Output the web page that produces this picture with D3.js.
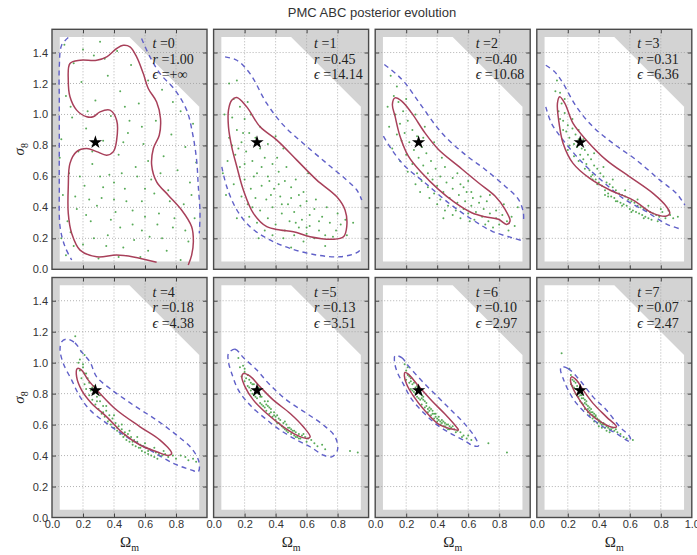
<!DOCTYPE html>
<html>
<head>
<meta charset="utf-8">
<script src="https://cdn.jsdelivr.net/npm/d3@7"></script>
<style>
  body { margin: 0; background: #fff; }
  svg { display: block; }
</style>
</head>
<body>
<svg id="chart" width="697" height="555"></svg>
<script>
// ---- data ----
const iterations = [0, 1, 2, 3, 4, 5, 6, 7];
const rValues = ['1.00', '0.45', '0.40', '0.31', '0.18', '0.13', '0.10', '0.07'];
const epsValues = ['+\u221e', '14.14', '10.68', '6.36', '4.38', '3.51', '2.97', '2.47'];
const trueParams = [0.28, 0.82];
const xTicks = [0, 0.2, 0.4, 0.6, 0.8, 1.0];
const yTicks = [0, 0.2, 0.4, 0.6, 0.8, 1.0, 1.2, 1.4];

// allowed prior region (white area)
const priorPoly = [[0.05, 0.05], [0.05, 1.5], [0.5, 1.5], [0.95, 1.05], [0.95, 0.05]];

// inner (red) contours, one per iteration
const redContours = [
  [[0.675,0.045],[0.525,0.08],[0.417,0.092],[0.288,0.081],[0.181,0.124],[0.127,0.232],[0.105,0.361],[0.105,0.533],[0.116,0.684],[0.159,0.76],[0.224,0.78],[0.288,0.76],[0.353,0.737],[0.396,0.76],[0.417,0.834],[0.417,0.963],[0.374,1.028],[0.31,1.017],[0.266,0.985],[0.224,0.985],[0.159,1.028],[0.116,1.114],[0.105,1.221],[0.116,1.329],[0.181,1.35],[0.288,1.35],[0.353,1.372],[0.417,1.426],[0.46,1.447],[0.503,1.437],[0.546,1.372],[0.589,1.264],[0.621,1.168],[0.675,1.081],[0.7,0.974],[0.692,0.866],[0.654,0.78],[0.643,0.673],[0.675,0.565],[0.75,0.479],[0.836,0.383],[0.901,0.275],[0.912,0.178],[0.901,0.092],[0.879,0.028]],
  [[0.15,1.109],[0.214,1.049],[0.3,0.92],[0.408,0.834],[0.537,0.705],[0.666,0.576],[0.795,0.468],[0.848,0.383],[0.859,0.275],[0.838,0.21],[0.773,0.194],[0.623,0.21],[0.515,0.243],[0.429,0.254],[0.343,0.275],[0.257,0.361],[0.192,0.512],[0.15,0.662],[0.117,0.791],[0.096,0.92],[0.096,1.028],[0.117,1.092]],
  [[0.128,1.107],[0.171,1.086],[0.235,1.01],[0.321,0.881],[0.408,0.774],[0.537,0.666],[0.666,0.559],[0.773,0.473],[0.838,0.387],[0.87,0.312],[0.848,0.29],[0.795,0.323],[0.709,0.339],[0.623,0.365],[0.515,0.43],[0.408,0.516],[0.3,0.623],[0.214,0.731],[0.16,0.86],[0.128,0.989],[0.111,1.065]],
  [[0.148,1.114],[0.181,1.071],[0.234,0.942],[0.32,0.834],[0.449,0.705],[0.6,0.597],[0.75,0.49],[0.837,0.404],[0.858,0.361],[0.837,0.344],[0.75,0.361],[0.621,0.447],[0.471,0.512],[0.342,0.587],[0.234,0.684],[0.17,0.813],[0.144,0.942],[0.133,1.071]],
  [[0.163,0.962],[0.191,0.952],[0.234,0.887],[0.31,0.801],[0.417,0.694],[0.568,0.586],[0.697,0.5],[0.772,0.414],[0.75,0.401],[0.675,0.425],[0.568,0.468],[0.46,0.543],[0.353,0.65],[0.256,0.737],[0.191,0.823],[0.159,0.908]],
  [[0.192,0.93],[0.235,0.913],[0.3,0.844],[0.386,0.758],[0.494,0.672],[0.579,0.586],[0.623,0.521],[0.601,0.511],[0.537,0.532],[0.45,0.586],[0.343,0.672],[0.257,0.758],[0.203,0.844],[0.182,0.908]],
  [[0.192,0.937],[0.214,0.926],[0.279,0.85],[0.365,0.754],[0.45,0.668],[0.526,0.582],[0.537,0.565],[0.494,0.571],[0.408,0.603],[0.321,0.689],[0.246,0.786],[0.203,0.861],[0.188,0.915]],
  [[0.224,0.908],[0.256,0.887],[0.299,0.823],[0.363,0.737],[0.449,0.65],[0.514,0.586],[0.492,0.582],[0.428,0.608],[0.342,0.672],[0.277,0.758],[0.234,0.833],[0.217,0.887]]
];
const redOpen = [true, false, false, false, false, false, false, false];

// outer (blue dashed) contours; early ones leave the plot and are open
const blueContours = [
  [[[0.105,1.497],[0.062,1.447],[0.047,1.307],[0.047,1.092],[0.047,0.813],[0.047,0.533],[0.052,0.275],[0.084,0.146],[0.127,0.06]],
   [[0.578,1.49],[0.632,1.372],[0.697,1.264],[0.794,1.157],[0.869,1.028],[0.907,0.877],[0.933,0.705],[0.944,0.533],[0.955,0.361],[0.95,0.232]]],
  [[[0.074,1.372],[0.15,1.35],[0.235,1.264],[0.343,1.071],[0.45,0.931],[0.579,0.813],[0.73,0.684],[0.859,0.576],[0.924,0.512],[0.956,0.447]],
   [[0.053,0.662],[0.085,0.533],[0.15,0.383],[0.235,0.275],[0.343,0.2],[0.494,0.135],[0.666,0.092],[0.816,0.081],[0.924,0.107],[0.956,0.135]]],
  [[[0.059,1.323],[0.128,1.268],[0.192,1.204],[0.3,1.054],[0.429,0.881],[0.579,0.742],[0.709,0.645],[0.838,0.537],[0.924,0.452],[0.956,0.365],[0.956,0.301]],
   [[0.053,0.86],[0.106,0.774],[0.192,0.666],[0.321,0.559],[0.472,0.43],[0.623,0.323],[0.752,0.247],[0.881,0.204],[0.956,0.183]]],
  [[[0.058,1.318],[0.116,1.275],[0.17,1.2],[0.256,1.049],[0.363,0.92],[0.492,0.813],[0.643,0.705],[0.794,0.576],[0.901,0.49],[0.955,0.415]],
   [[0.058,1.049],[0.095,0.942],[0.17,0.834],[0.299,0.684],[0.428,0.565],[0.557,0.458],[0.708,0.372],[0.837,0.292],[0.933,0.258]]],
  [[[0.095,1.152],[0.148,1.128],[0.191,1.07],[0.245,1.005],[0.288,0.908],[0.374,0.833],[0.525,0.726],[0.675,0.629],[0.804,0.532],[0.901,0.446],[0.948,0.36],[0.944,0.296],[0.901,0.306],[0.783,0.35],[0.632,0.435],[0.482,0.521],[0.353,0.608],[0.245,0.694],[0.181,0.779],[0.127,0.887],[0.073,0.995],[0.052,1.081],[0.062,1.134]]],
  [[[0.096,1.059],[0.139,1.087],[0.192,1.033],[0.279,0.952],[0.365,0.855],[0.472,0.758],[0.601,0.672],[0.708,0.597],[0.784,0.521],[0.799,0.435],[0.762,0.392],[0.708,0.403],[0.623,0.457],[0.537,0.5],[0.429,0.565],[0.332,0.64],[0.235,0.726],[0.16,0.823],[0.117,0.93],[0.096,1.005]]],
  [[[0.128,1.044],[0.171,1.033],[0.214,0.979],[0.3,0.883],[0.408,0.775],[0.494,0.689],[0.579,0.603],[0.644,0.517],[0.666,0.463],[0.633,0.463],[0.579,0.495],[0.494,0.539],[0.408,0.592],[0.321,0.668],[0.235,0.765],[0.182,0.861],[0.139,0.947],[0.124,1.012]]],
  [[[0.159,0.973],[0.202,0.962],[0.277,0.887],[0.363,0.779],[0.449,0.694],[0.535,0.586],[0.6,0.521],[0.604,0.489],[0.578,0.5],[0.514,0.543],[0.428,0.586],[0.342,0.65],[0.256,0.737],[0.202,0.823],[0.17,0.898],[0.153,0.952]]]
];
const blueOpen = [true, true, true, true, false, false, false, false];

// accepted particles per iteration
const particles = [
  [[0.08,1.45],[0.31,1.47],[0.42,1.41],[0.14,1.33],[0.27,1.38],[0.51,1.32],[0.36,1.25],[0.62,1.22],[0.19,1.21],[0.09,1.12],[0.44,1.15],[0.71,1.16],[0.28,1.09],[0.56,1.07],[0.83,1.02],[0.13,0.98],[0.38,0.99],[0.67,0.96],[0.91,0.94],[0.22,0.91],[0.49,0.88],[0.77,0.87],[0.06,0.84],[0.33,0.83],[0.59,0.81],[0.86,0.79],[0.17,0.76],[0.43,0.74],[0.72,0.73],[0.93,0.69],[0.26,0.68],[0.54,0.66],[0.81,0.64],[0.11,0.62],[0.37,0.61],[0.64,0.58],[0.89,0.56],[0.21,0.54],[0.47,0.52],[0.75,0.51],[0.07,0.48],[0.32,0.46],[0.58,0.44],[0.85,0.42],[0.16,0.39],[0.41,0.37],[0.69,0.36],[0.92,0.33],[0.25,0.31],[0.52,0.29],[0.78,0.27],[0.12,0.24],[0.36,0.22],[0.63,0.21],[0.88,0.18],[0.2,0.16],[0.46,0.14],[0.74,0.12],[0.09,0.09],[0.3,0.07],[0.57,0.08],[0.83,0.06],[0.4,0.56],[0.29,0.41],[0.6,0.34],[0.15,0.47],[0.5,0.96],[0.23,1.02],[0.66,0.49],[0.35,0.15],[0.55,0.6],[0.44,0.27],[0.18,0.6],[0.7,0.62],[0.27,0.2],[0.62,0.12],[0.48,0.44],[0.33,0.53],[0.79,0.33],[0.1,0.31],[0.24,0.45],[0.58,0.25],[0.38,0.32],[0.53,0.19],[0.86,0.25],[0.45,0.62],[0.14,0.15],[0.68,0.29],[0.22,0.35],[0.52,0.38],[0.31,0.6],[0.4,0.45],[0.6,0.52],[0.76,0.44],[0.05,0.72],[0.47,1.05],[0.58,0.92],[0.34,1.36],[0.2,1.42],[0.12,1.05],[0.78,1.08],[0.46,0.82],[0.62,0.7],[0.26,0.76],[0.9,0.48],[0.06,0.2],[0.43,0.08],[0.71,0.2]],
  [[0.1,1.2],[0.13,1.1],[0.17,1.05],[0.12,0.98],[0.2,0.97],[0.15,0.9],[0.23,0.88],[0.1,0.85],[0.18,0.82],[0.27,0.85],[0.21,0.76],[0.14,0.74],[0.3,0.78],[0.25,0.7],[0.17,0.66],[0.33,0.72],[0.38,0.68],[0.28,0.62],[0.2,0.58],[0.35,0.6],[0.42,0.63],[0.24,0.52],[0.31,0.54],[0.46,0.57],[0.39,0.52],[0.5,0.53],[0.27,0.46],[0.34,0.45],[0.43,0.47],[0.55,0.48],[0.22,0.42],[0.3,0.38],[0.38,0.4],[0.48,0.42],[0.6,0.44],[0.35,0.33],[0.44,0.36],[0.52,0.37],[0.65,0.39],[0.28,0.3],[0.4,0.29],[0.49,0.31],[0.57,0.32],[0.7,0.34],[0.33,0.25],[0.46,0.25],[0.55,0.27],[0.62,0.28],[0.75,0.3],[0.52,0.22],[0.6,0.23],[0.68,0.25],[0.79,0.25],[0.65,0.2],[0.72,0.22],[0.82,0.29],[0.58,0.18],[0.45,0.2],[0.38,0.22],[0.8,0.36],[0.73,0.4],[0.66,0.45],[0.58,0.5],[0.53,0.58],[0.47,0.66],[0.41,0.72],[0.35,0.81],[0.3,0.92],[0.24,1.0],[0.07,1.0],[0.09,0.7],[0.13,0.55],[0.18,0.47],[0.06,0.62],[0.23,0.34],[0.42,0.55],[0.37,0.48],[0.31,0.66],[0.26,0.6],[0.2,0.68],[0.16,0.78],[0.5,0.46],[0.62,0.35],[0.68,0.31],[0.77,0.21],[0.86,0.22],[0.85,0.32],[0.9,0.3],[0.72,0.15],[0.5,0.14],[0.29,0.2],[0.15,0.33],[0.08,0.48],[0.44,0.42],[0.56,0.41],[0.36,0.57],[0.53,0.3],[0.6,0.27],[0.25,0.4],[0.19,0.88],[0.12,0.8],[0.22,1.08],[0.15,1.22],[0.4,0.86],[0.45,0.78],[0.61,0.62]],
  [[0.1,1.25],[0.12,1.12],[0.15,1.08],[0.13,1.0],[0.18,1.02],[0.16,0.94],[0.21,0.96],[0.19,0.88],[0.24,0.9],[0.17,0.83],[0.22,0.82],[0.27,0.86],[0.25,0.77],[0.3,0.79],[0.2,0.74],[0.28,0.72],[0.33,0.75],[0.24,0.68],[0.31,0.67],[0.36,0.7],[0.27,0.62],[0.34,0.62],[0.39,0.65],[0.3,0.57],[0.37,0.58],[0.42,0.6],[0.45,0.66],[0.34,0.53],[0.4,0.54],[0.46,0.56],[0.5,0.59],[0.38,0.49],[0.44,0.5],[0.5,0.52],[0.55,0.55],[0.42,0.45],[0.48,0.46],[0.54,0.48],[0.59,0.5],[0.47,0.41],[0.53,0.43],[0.58,0.44],[0.63,0.46],[0.52,0.38],[0.57,0.39],[0.62,0.41],[0.67,0.43],[0.6,0.36],[0.65,0.37],[0.7,0.39],[0.72,0.44],[0.64,0.32],[0.69,0.34],[0.74,0.36],[0.78,0.38],[0.73,0.31],[0.78,0.33],[0.82,0.35],[0.8,0.29],[0.85,0.31],[0.88,0.34],[0.76,0.27],[0.9,0.28],[0.55,0.33],[0.5,0.35],[0.45,0.38],[0.4,0.42],[0.35,0.46],[0.62,0.5],[0.57,0.53],[0.68,0.47],[0.29,0.5],[0.26,0.55],[0.21,0.63],[0.16,0.7],[0.11,0.78],[0.14,0.87],[0.09,0.92],[0.08,1.05],[0.14,1.18],[0.2,1.1],[0.26,1.0],[0.32,0.92],[0.38,0.82],[0.31,0.85],[0.43,0.72],[0.53,0.62],[0.6,0.57],[0.74,0.48],[0.83,0.42],[0.92,0.4],[0.86,0.25],[0.71,0.29],[0.61,0.31],[0.44,0.33]],
  [[0.13,1.22],[0.15,1.14],[0.16,1.07],[0.14,1.02],[0.18,1.01],[0.17,0.96],[0.2,0.93],[0.19,0.89],[0.23,0.91],[0.21,0.85],[0.25,0.87],[0.24,0.81],[0.26,0.79],[0.27,0.84],[0.29,0.78],[0.28,0.74],[0.31,0.77],[0.3,0.71],[0.33,0.74],[0.32,0.68],[0.35,0.71],[0.34,0.64],[0.37,0.67],[0.36,0.61],[0.39,0.65],[0.38,0.58],[0.41,0.62],[0.4,0.56],[0.43,0.6],[0.42,0.54],[0.45,0.56],[0.44,0.51],[0.47,0.55],[0.46,0.49],[0.49,0.53],[0.48,0.47],[0.51,0.51],[0.5,0.46],[0.53,0.49],[0.52,0.44],[0.55,0.48],[0.54,0.43],[0.57,0.47],[0.56,0.42],[0.59,0.45],[0.58,0.41],[0.61,0.44],[0.6,0.39],[0.63,0.43],[0.62,0.38],[0.65,0.41],[0.64,0.37],[0.67,0.4],[0.66,0.36],[0.69,0.39],[0.68,0.35],[0.71,0.38],[0.7,0.34],[0.73,0.37],[0.72,0.33],[0.75,0.36],[0.77,0.35],[0.74,0.32],[0.79,0.34],[0.81,0.37],[0.83,0.33],[0.86,0.35],[0.88,0.33],[0.91,0.34],[0.78,0.31],[0.69,0.33],[0.55,0.41],[0.46,0.47],[0.36,0.58],[0.27,0.7],[0.21,0.8],[0.17,0.9],[0.15,0.97],[0.2,0.77],[0.24,0.73],[0.31,0.65],[0.39,0.55],[0.35,0.6],[0.44,0.48],[0.51,0.44],[0.61,0.37],[0.27,0.9],[0.3,0.84],[0.37,0.75],[0.43,0.66],[0.49,0.58],[0.57,0.51],[0.65,0.45],[0.72,0.41],[0.8,0.39],[0.85,0.38],[0.23,0.97],[0.18,1.1],[0.12,1.15]],
  [[0.15,1.17],[0.19,1.07],[0.18,1.02],[0.2,0.99],[0.18,0.95],[0.21,0.93],[0.19,0.9],[0.23,0.9],[0.21,0.86],[0.24,0.87],[0.22,0.83],[0.26,0.84],[0.24,0.79],[0.27,0.8],[0.26,0.76],[0.29,0.78],[0.28,0.73],[0.31,0.75],[0.3,0.7],[0.33,0.72],[0.32,0.67],[0.35,0.69],[0.34,0.65],[0.37,0.66],[0.36,0.62],[0.39,0.64],[0.38,0.6],[0.41,0.61],[0.4,0.58],[0.43,0.59],[0.42,0.56],[0.45,0.57],[0.44,0.54],[0.47,0.55],[0.46,0.52],[0.49,0.54],[0.48,0.5],[0.51,0.52],[0.5,0.49],[0.53,0.5],[0.52,0.47],[0.55,0.49],[0.54,0.46],[0.57,0.47],[0.56,0.45],[0.59,0.46],[0.58,0.43],[0.61,0.45],[0.6,0.42],[0.63,0.44],[0.62,0.41],[0.65,0.43],[0.64,0.4],[0.67,0.42],[0.66,0.39],[0.69,0.41],[0.71,0.4],[0.68,0.38],[0.73,0.41],[0.75,0.39],[0.78,0.4],[0.8,0.38],[0.83,0.4],[0.86,0.39],[0.88,0.37],[0.91,0.38],[0.93,0.36],[0.25,0.82],[0.29,0.75],[0.33,0.68],[0.37,0.63],[0.42,0.58],[0.47,0.53],[0.52,0.49],[0.57,0.45],[0.62,0.43],[0.2,0.97],[0.22,0.93],[0.27,0.85],[0.31,0.79],[0.35,0.72],[0.4,0.66],[0.45,0.6],[0.5,0.56],[0.55,0.52],[0.6,0.48],[0.66,0.45],[0.72,0.43],[0.21,1.05],[0.17,1.0]],
  [[0.16,1.03],[0.19,0.98],[0.2,0.94],[0.18,0.91],[0.22,0.92],[0.2,0.88],[0.23,0.89],[0.22,0.85],[0.25,0.86],[0.24,0.82],[0.27,0.83],[0.26,0.79],[0.29,0.8],[0.28,0.77],[0.31,0.78],[0.3,0.74],[0.33,0.75],[0.32,0.72],[0.35,0.72],[0.34,0.69],[0.37,0.7],[0.36,0.67],[0.39,0.68],[0.38,0.65],[0.41,0.66],[0.4,0.63],[0.43,0.63],[0.42,0.61],[0.45,0.61],[0.44,0.59],[0.47,0.6],[0.46,0.57],[0.49,0.58],[0.48,0.55],[0.51,0.56],[0.5,0.54],[0.53,0.55],[0.52,0.53],[0.55,0.54],[0.54,0.52],[0.57,0.53],[0.56,0.51],[0.59,0.52],[0.61,0.51],[0.63,0.5],[0.65,0.48],[0.67,0.46],[0.7,0.47],[0.72,0.44],[0.88,0.43],[0.93,0.42],[0.23,0.84],[0.26,0.86],[0.28,0.81],[0.3,0.78],[0.33,0.71],[0.35,0.75],[0.37,0.68],[0.4,0.65],[0.43,0.6],[0.46,0.62],[0.48,0.58],[0.52,0.56],[0.55,0.51],[0.21,0.9],[0.24,0.87],[0.27,0.78],[0.31,0.73],[0.34,0.73],[0.39,0.66],[0.42,0.64],[0.45,0.58],[0.5,0.57],[0.58,0.54],[0.6,0.49],[0.25,0.8],[0.29,0.84],[0.36,0.71],[0.41,0.61],[0.47,0.56],[0.53,0.52],[0.2,0.96],[0.17,0.97]],
  [[0.19,0.99],[0.2,0.95],[0.21,0.92],[0.2,0.89],[0.23,0.9],[0.22,0.87],[0.24,0.86],[0.23,0.83],[0.26,0.84],[0.25,0.81],[0.28,0.81],[0.27,0.78],[0.3,0.79],[0.29,0.76],[0.31,0.76],[0.3,0.73],[0.33,0.74],[0.32,0.71],[0.35,0.71],[0.34,0.68],[0.37,0.69],[0.36,0.66],[0.39,0.67],[0.38,0.64],[0.41,0.65],[0.4,0.62],[0.43,0.63],[0.42,0.6],[0.45,0.61],[0.44,0.59],[0.47,0.6],[0.46,0.58],[0.49,0.58],[0.48,0.57],[0.51,0.57],[0.53,0.56],[0.55,0.55],[0.57,0.53],[0.59,0.51],[0.62,0.5],[0.73,0.48],[0.85,0.42],[0.22,0.91],[0.25,0.87],[0.27,0.83],[0.29,0.8],[0.31,0.78],[0.33,0.72],[0.36,0.7],[0.38,0.67],[0.4,0.64],[0.42,0.62],[0.44,0.62],[0.46,0.6],[0.5,0.59],[0.24,0.82],[0.28,0.77],[0.32,0.75],[0.35,0.69],[0.39,0.65],[0.43,0.61],[0.47,0.57],[0.21,0.97],[0.26,0.8],[0.3,0.77],[0.34,0.7],[0.37,0.67],[0.41,0.63],[0.45,0.59],[0.48,0.59],[0.52,0.55],[0.23,0.88],[0.27,0.85],[0.56,0.52],[0.6,0.53]],
  [[0.16,1.06],[0.21,0.96],[0.22,0.92],[0.23,0.89],[0.22,0.86],[0.25,0.87],[0.24,0.84],[0.26,0.83],[0.25,0.8],[0.28,0.81],[0.27,0.78],[0.29,0.77],[0.28,0.75],[0.31,0.76],[0.3,0.73],[0.32,0.73],[0.31,0.7],[0.34,0.71],[0.33,0.68],[0.35,0.68],[0.34,0.66],[0.37,0.67],[0.36,0.64],[0.38,0.65],[0.37,0.62],[0.4,0.63],[0.39,0.61],[0.41,0.61],[0.4,0.59],[0.43,0.6],[0.42,0.58],[0.44,0.58],[0.46,0.58],[0.45,0.56],[0.48,0.57],[0.47,0.55],[0.5,0.56],[0.52,0.55],[0.54,0.54],[0.56,0.52],[0.58,0.51],[0.62,0.5],[0.24,0.88],[0.26,0.85],[0.27,0.82],[0.29,0.79],[0.3,0.77],[0.32,0.75],[0.33,0.72],[0.35,0.7],[0.36,0.68],[0.38,0.66],[0.39,0.64],[0.41,0.62],[0.43,0.61],[0.45,0.59],[0.47,0.57],[0.49,0.58],[0.23,0.85],[0.25,0.83],[0.28,0.79],[0.31,0.74],[0.34,0.69],[0.37,0.65],[0.4,0.62],[0.44,0.6],[0.26,0.79],[0.29,0.74],[0.33,0.7],[0.36,0.66],[0.42,0.6],[0.51,0.57]]
];

// ---- layout ----
const svg = d3.select('#chart');
const W = 155, H = 240;
const left = 52, top0 = 29.3, colStep = 161.6, rowStep = 248.2;

const x = d3.scaleLinear().domain([0, 1]).range([0, W]);
const y = d3.scaleLinear().domain([0, 1.55]).range([H, 0]);

const line = d3.line().x(d => x(d[0])).y(d => y(d[1]));
const redColor = '#a8405a';
const blueColor = '#6060c8';
const fmt = d3.format('.1f');

svg.append('text')
  .attr('x', 372).attr('y', 17)
  .attr('text-anchor', 'middle')
  .attr('font-family', 'Liberation Sans, Arial, sans-serif')
  .attr('font-size', 13)
  .attr('fill', '#333')
  .text('PMC ABC posterior evolution');

iterations.forEach((t, k) => {
  const col = k % 4, row = Math.floor(k / 4);
  const g = svg.append('g')
    .attr('transform', `translate(${left + col * colStep},${top0 + row * rowStep})`);

  g.append('clipPath').attr('id', `clip${k}`)
    .append('rect').attr('width', W).attr('height', H);

  // gray outside, white prior region
  g.append('rect').attr('width', W).attr('height', H).attr('fill', '#d3d3d3');
  g.append('path').attr('d', line(priorPoly) + 'Z').attr('fill', '#fff');

  // dotted grid
  const grid = g.append('g').attr('stroke', '#a0a0a0').attr('stroke-width', 0.8)
    .attr('stroke-dasharray', '1,2');
  xTicks.filter(v => v > 0 && v < 1).forEach(v => {
    grid.append('line').attr('x1', x(v)).attr('x2', x(v)).attr('y1', 0).attr('y2', H);
  });
  yTicks.filter(v => v > 0).forEach(v => {
    grid.append('line').attr('y1', y(v)).attr('y2', y(v)).attr('x1', 0).attr('x2', W);
  });

  const plot = g.append('g').attr('clip-path', `url(#clip${k})`);

  // particles
  plot.append('g').selectAll('circle')
    .data(particles[k])
    .join('circle')
    .attr('cx', d => x(d[0]))
    .attr('cy', d => y(d[1]))
    .attr('r', 1.0)
    .attr('fill', '#3c9c3c')
    .attr('opacity', 0.85);

  // contours
  const openLine = d3.line().x(d => x(d[0])).y(d => y(d[1])).curve(d3.curveCatmullRom);
  const closedLine = d3.line().x(d => x(d[0])).y(d => y(d[1])).curve(d3.curveCatmullRomClosed);

  blueContours[k].forEach(c => {
    plot.append('path')
      .attr('d', (blueOpen[k] ? openLine : closedLine)(c))
      .attr('fill', 'none')
      .attr('stroke', blueColor)
      .attr('stroke-width', 1.4)
      .attr('stroke-dasharray', '5,4');
  });
  plot.append('path')
    .attr('d', (redOpen[k] ? openLine : closedLine)(redContours[k]))
    .attr('fill', 'none')
    .attr('stroke', redColor)
    .attr('stroke-width', 1.5);

  // true value
  g.append('path')
    .attr('d', d3.symbol().type(d3.symbolStar).size(55)())
    .attr('transform', `translate(${x(trueParams[0])},${y(trueParams[1])})`)
    .attr('fill', '#000');

  // inward ticks on all four sides
  const tickStyle = sel => {
    sel.select('.domain').remove();
    sel.selectAll('.tick line').attr('stroke', '#444');
    sel.selectAll('.tick text')
      .attr('font-family', 'Liberation Sans, Arial, sans-serif')
      .attr('font-size', 11)
      .attr('fill', '#333');
  };
  const innerX = xTicks.filter(v => v > 0 && v < 1);
  const innerY = yTicks.filter(v => v > 0);

  g.append('g').attr('transform', `translate(0,${H})`)
    .call(d3.axisBottom(x).tickValues(innerX).tickSizeInner(-4).tickSizeOuter(0).tickFormat(''))
    .call(tickStyle);
  g.append('g')
    .call(d3.axisTop(x).tickValues(innerX).tickSizeInner(-4).tickSizeOuter(0).tickFormat(''))
    .call(tickStyle);
  g.append('g')
    .call(d3.axisLeft(y).tickValues(innerY).tickSizeInner(-4).tickSizeOuter(0).tickFormat(''))
    .call(tickStyle);
  g.append('g').attr('transform', `translate(${W},0)`)
    .call(d3.axisRight(y).tickValues(innerY).tickSizeInner(-4).tickSizeOuter(0).tickFormat(''))
    .call(tickStyle);

  // tick labels
  if (col === 0) {
    g.append('g')
      .call(d3.axisLeft(y).tickValues(yTicks).tickSize(0).tickPadding(4).tickFormat(fmt))
      .call(tickStyle);
  }
  if (row === 1) {
    const labs = col === 3 ? xTicks : xTicks.filter(v => v < 1);
    g.append('g').attr('transform', `translate(0,${H})`)
      .call(d3.axisBottom(x).tickValues(labs).tickSize(0).tickPadding(3).tickFormat(fmt))
      .call(tickStyle);
  }

  // frame
  g.append('rect').attr('width', W).attr('height', H)
    .attr('fill', 'none').attr('stroke', '#4a4a4a').attr('stroke-width', 1.4);

  // annotation
  const ann = g.append('text')
    .attr('font-family', 'Liberation Serif, DejaVu Serif, serif')
    .attr('font-size', 14)
    .attr('fill', '#222');
  const lines = [['t', String(t)], ['r', rValues[k]], ['\u03f5', epsValues[k]]];
  lines.forEach(([v, val], i) => {
    ann.append('tspan').attr('x', 100.5).attr('y', 19 + i * 15.5)
      .attr('font-style', 'italic').text(v);
    ann.append('tspan').text(' =' + val);
  });

  // axis labels
  if (col === 0) {
    const lab = svg.append('text')
      .attr('transform', `translate(24,${top0 + row * rowStep + H / 2}) rotate(-90)`)
      .attr('text-anchor', 'middle')
      .attr('font-family', 'Liberation Serif, DejaVu Serif, serif')
      .attr('font-size', 15)
      .attr('fill', '#222');
    lab.append('tspan').attr('font-style', 'italic').text('\u03c3');
    lab.append('tspan').attr('font-size', 10).attr('dy', 4).text('8');
  }
  if (row === 1) {
    const lab = svg.append('text')
      .attr('x', left + col * colStep + W / 2)
      .attr('y', 547)
      .attr('text-anchor', 'middle')
      .attr('font-family', 'Liberation Serif, DejaVu Serif, serif')
      .attr('font-size', 15)
      .attr('fill', '#222');
    lab.append('tspan').text('\u03a9');
    lab.append('tspan').attr('font-size', 10).attr('dy', 4).text('m');
  }
});
</script>
</body>
</html>
